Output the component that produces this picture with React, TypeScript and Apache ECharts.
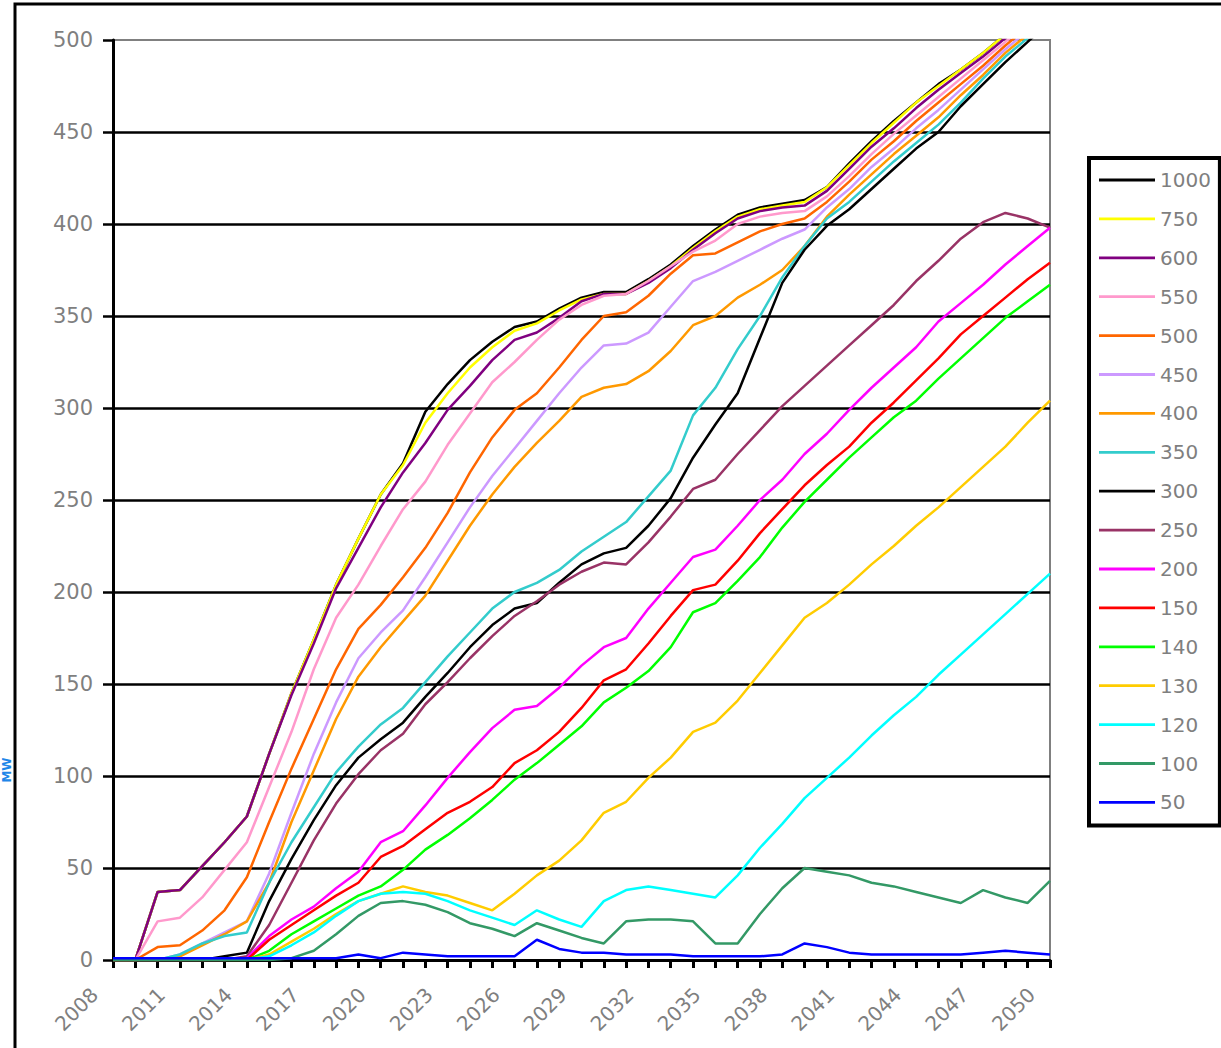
import React, { useEffect, useRef } from "react";
import * as echarts from "echarts";

const years: string[] = Array.from({ length: 43 }, (_, i) => String(2008 + i));
const yTicks = { min: 0, max: 500, interval: 50 };

const s1000 = [0,0,37,38,51,64,78,112,145,174, 204,229,253,270,298,313,326,336,344,347, 354,360,363,363,370,378,388,397,405,409, 411,413,420,433,445,456,466,476,484,493, 503,512,520];
const s750 = [0,0,37,38,51,64,78,112,145,174, 204,229,253,269,292,308,322,333,342,346, 353,359,362,362,369,377,387,396,404,408, 410,412,420,432,444,455,466,475,484,493, 503,512,520];
const s600 = [0,0,37,38,51,64,78,112,144,172, 202,224,246,265,281,299,312,326,337,341, 349,358,362,362,368,376,386,395,403,407, 409,410,418,430,442,452,463,473,482,491, 501,510,519];
const s550 = [0,0,21,23,34,49,64,94,124,158, 186,204,225,245,260,280,297,314,325,337, 348,356,361,362,369,377,385,391,400,404, 406,407,415,426,438,449,459,469,479,489, 499,509,517];
const s500 = [0,0,7,8,16,27,45,75,104,131, 158,180,193,208,224,243,265,284,299,308, 322,337,350,352,361,373,383,384,390,396, 400,403,412,423,435,445,456,466,476,486, 497,507,516];
const s450 = [0,0,0,3,9,15,21,47,80,112, 140,164,178,190,208,227,246,263,278,293, 308,322,334,335,341,355,369,374,380,386, 392,397,409,419,431,441,452,462,473,484, 495,505,514];
const s400 = [0,0,0,2,8,14,21,42,75,103, 131,154,170,184,198,217,236,253,268,281, 293,306,311,313,320,331,345,350,360,367, 375,388,404,416,427,438,448,458,470,481, 493,503,513];
const s350 = [0,0,0,3,9,13,15,42,64,83, 102,116,128,137,151,165,178,191,200,205, 212,222,230,238,252,266,296,311,332,350, 371,388,403,412,423,434,444,454,466,479, 491,501,511];
const s300 = [0,0,0,0,0,2,4,32,55,76, 95,110,120,129,143,156,170,182,191,194, 205,215,221,224,236,251,273,291,308,338, 368,386,399,408,419,430,441,450,464,476, 488,499,510];
const s250 = [0,0,0,0,0,0,2,19,42,65, 85,101,114,123,139,151,164,176,187,195, 204,211,216,215,227,241,256,261,275,288, 301,312,323,334,345,356,369,380,392,401, 406,403,398];
const s200 = [0,0,0,0,0,0,1,13,22,29, 39,48,64,70,84,99,113,126,136,138, 148,160,170,175,191,205,219,223,236,250, 261,275,286,299,311,322,333,347,357,367, 378,388,398];
const s150 = [0,0,0,0,0,0,0,11,19,27, 35,42,56,62,71,80,86,94,107,114, 124,137,152,158,172,187,201,204,217,232, 245,258,269,279,292,303,315,327,340,350, 360,370,379];
const s140 = [0,0,0,0,0,0,0,5,14,21, 28,35,40,49,60,68,77,87,98,107, 117,127,140,148,157,170,189,194,206,219, 235,249,261,273,284,295,304,316,327,338, 349,358,367];
const s130 = [0,0,0,0,0,0,0,3,10,17, 25,32,36,40,37,35,31,27,36,46, 54,65,80,86,99,110,124,129,141,156, 171,186,194,204,215,225,236,246,257,268, 279,292,304];
const s120 = [0,0,0,0,0,0,0,2,8,15, 24,32,36,37,36,32,27,23,19,27, 22,18,32,38,40,38,36,34,46,61, 74,88,99,110,122,133,143,155,166,177, 188,199,210];
const s100 = [0,0,0,0,0,0,0,0,1,5, 14,24,31,32,30,26,20,17,13,20, 16,12,9,21,22,22,21,9,9,25, 39,50,48,46,42,40,37,34,31,38, 34,31,43];
const s50 = [1,1,1,1,1,1,1,1,1,1, 1,3,1,4,3,2,2,2,2,11, 6,4,4,3,3,3,2,2,2,2, 3,9,7,4,3,3,3,3,3,4, 5,4,3];

const seriesNames = ["1000","750","600","550","500","450","400","350","300","250","200","150","140","130","120","100","50"];
const seriesData = [s1000,s750,s600,s550,s500,s450,s400,s350,s300,s250,s200,s150,s140,s130,s120,s100,s50];
const seriesColors = ["#000000","#FFFF00","#800080","#FF99CC","#FF6600","#CC99FF","#FF9900","#33CCCC","#000000","#993366","#FF00FF","#FF0000","#00FF00","#FFCC00","#00FFFF","#339966","#0000FF"];

const FONT = "DejaVu Sans";
const GREY = "#7f7f7f";

export default function App() {
  const ref = useRef<HTMLDivElement>(null);
  useEffect(() => {
    if (!ref.current) return;
    const chart = echarts.init(ref.current, undefined, { renderer: "svg" });
    chart.setOption({
      animation: false,
      backgroundColor: "#ffffff",
      grid: {
        left: 113, right: 171, top: 40, bottom: 88,
        show: true, borderColor: "#808080", borderWidth: 2, backgroundColor: "transparent",
      },
      xAxis: {
        type: "category",
        data: years,
        boundaryGap: false,
        axisLine: { show: true, lineStyle: { color: "#000", width: 3 } },
        axisTick: { show: true, interval: 0, length: 8, lineStyle: { color: "#000", width: 3 } },
        axisLabel: {
          interval: 2, rotate: 45, margin: 13, padding: [0, 26, 0, 0],
          color: GREY, fontSize: 20, fontFamily: FONT,
        },
        splitLine: { show: false },
      },
      yAxis: {
        type: "value",
        min: yTicks.min, max: yTicks.max, interval: yTicks.interval,
        axisLine: { show: true, lineStyle: { color: "#000", width: 3 } },
        axisTick: { show: true, length: 10, lineStyle: { color: "#000", width: 2.5 } },
        axisLabel: { margin: 20, color: GREY, fontSize: 21, fontFamily: FONT },
        splitLine: { show: true, showMaxLine: false, lineStyle: { color: "#000", width: 2.5 } },
      },
      legend: {
        orient: "vertical",
        left: 1089, top: 158,
        padding: [12, 9, 13, 10],
        borderColor: "#000", borderWidth: 4,
        backgroundColor: "#fff",
        icon: "path://M0,0 M0,20 M0,8.6 L56,8.6 L56,11.4 L0,11.4 Z",
        itemWidth: 56, itemHeight: 20, itemGap: 18.9,
        textStyle: { color: GREY, fontSize: 20, fontFamily: FONT, lineHeight: 20 },
        data: seriesNames,
        selectedMode: false,
      },
      graphic: [
        {
          type: "rect", silent: true, z: 100,
          shape: { x: 15, y: 4, width: 1400, height: 1200 },
          style: { fill: "none", stroke: "#000", lineWidth: 3 },
        },
        {
          type: "text", silent: true,
          x: 7, y: 770, rotation: Math.PI / 2,
          style: {
            text: "MW", fill: "#1f86e8", font: "bold 12px DejaVu Sans",
            textAlign: "center", textVerticalAlign: "middle",
          },
        },
      ],
      series: seriesNames.map((name, i) => ({
        name,
        type: "line",
        data: seriesData[i],
        symbol: "none",
        showSymbol: false,
        clip: true,
        color: seriesColors[i],
        lineStyle: { color: seriesColors[i], width: 2.5 },
        emphasis: { disabled: true },
      })),
    });
    return () => chart.dispose();
  }, []);
  return (
    <div
      ref={ref}
      style={{ position: "absolute", left: 0, top: 0, width: 1221, height: 1048 }}
    />
  );
}
